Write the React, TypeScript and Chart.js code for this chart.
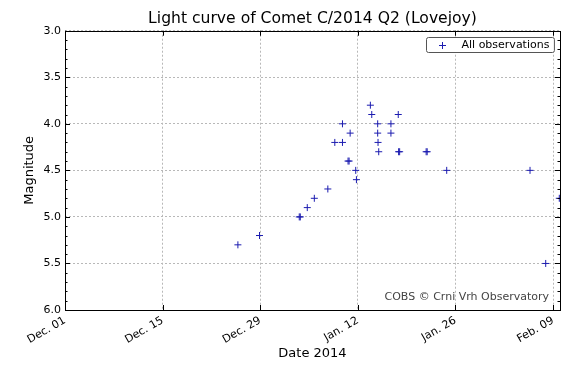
import React, { useEffect, useRef } from "react";
import { Chart, registerables } from "chart.js";

Chart.register(...registerables);

// Observation dates as days since 2013-12-01 (Dec. 01 = 0, Jan. 12 = 42, Feb. 09 = 70)
const obsDays = [
  24.8, 27.9, 33.6, 33.75, 34.75, 35.76, 37.7, 38.7, 39.8, 39.8, 40.6, 40.75, 40.9,
  41.7, 41.8, 43.8, 44.0, 44.85, 44.85, 44.9, 45.0, 46.75, 46.75, 47.8, 47.85,
  48.0, 51.8, 51.95, 54.75, 66.7, 68.95, 70.9,
];
// Visual magnitudes
const obsMags = [
  5.3, 5.2, 5.0, 5.0, 4.9, 4.8, 4.7, 4.2, 4.2, 4.0, 4.4, 4.4, 4.1,
  4.5, 4.6, 3.8, 3.9, 4.0, 4.1, 4.2, 4.3, 4.0, 4.1, 3.9, 4.3,
  4.3, 4.3, 4.3, 4.5, 4.5, 5.5, 4.8,
];

const tickDays = [0, 14, 28, 42, 56, 70];
const tickLabels = ["Dec. 01", "Dec. 15", "Dec. 29", "Jan. 12", "Jan. 26", "Feb. 09"];
const xMin = 0;
const xMax = 71;
const yMin = 3;
const yMax = 6;

const chartTitle = "Light curve of Comet C/2014 Q2 (Lovejoy)";
const xTitle = "Date 2014";
const yTitle = "Magnitude";
const legendLabel = "All observations";
const creditText = "COBS \u00a9 Crni Vrh Observatory";

const FONT = '"DejaVu Sans", sans-serif';
const MARK = "#1c1cb0";

const framePlugin = {
  id: "frame",
  afterDraw(chart: any) {
    const { ctx, chartArea: a, scales } = chart;
    const xs = scales.x;
    const ys = scales.y;
    ctx.save();
    ctx.strokeStyle = "#000";
    ctx.lineWidth = 1;
    ctx.setLineDash([]);
    ctx.beginPath();
    for (const d of tickDays) {
      const px = Math.round(xs.getPixelForValue(d)) + 0.5;
      ctx.moveTo(px, a.bottom);
      ctx.lineTo(px, a.bottom - 5);
      ctx.moveTo(px, a.top);
      ctx.lineTo(px, a.top + 5);
    }
    for (let i = 0; i <= 30; i++) {
      const v = yMin + i * 0.1;
      const len = i % 5 === 0 ? 5 : 2.5;
      const py = Math.round(ys.getPixelForValue(v)) + 0.5;
      ctx.moveTo(a.left, py);
      ctx.lineTo(a.left + len, py);
      ctx.moveTo(a.right, py);
      ctx.lineTo(a.right - len, py);
    }
    ctx.stroke();
    ctx.strokeRect(
      Math.round(a.left) + 0.5,
      Math.round(a.top) + 0.5,
      Math.round(a.right - a.left),
      Math.round(a.bottom - a.top)
    );

    // credit text
    ctx.font = "11px " + FONT;
    ctx.fillStyle = "#444";
    ctx.textAlign = "right";
    ctx.textBaseline = "middle";
    ctx.fillText(creditText, a.right - 11, a.bottom - 13);

    // legend
    ctx.font = "11px " + FONT;
    const tw = ctx.measureText(legendLabel).width;
    const right = a.right - 6;
    const top = Math.round(a.top) + 6.5;
    const h = 15;
    const w = tw + 40;
    const left = Math.round(right - w) + 0.5;
    ctx.beginPath();
    const r = 2;
    ctx.moveTo(left + r, top);
    ctx.lineTo(left + w - r, top);
    ctx.quadraticCurveTo(left + w, top, left + w, top + r);
    ctx.lineTo(left + w, top + h - r);
    ctx.quadraticCurveTo(left + w, top + h, left + w - r, top + h);
    ctx.lineTo(left + r, top + h);
    ctx.quadraticCurveTo(left, top + h, left, top + h - r);
    ctx.lineTo(left, top + r);
    ctx.quadraticCurveTo(left, top, left + r, top);
    ctx.closePath();
    ctx.fillStyle = "#fff";
    ctx.fill();
    ctx.strokeStyle = "#555";
    ctx.stroke();
    const mx = Math.round(left + 15) + 0.5;
    const my = Math.round(top + h / 2) + 0.5;
    ctx.strokeStyle = MARK;
    ctx.beginPath();
    ctx.moveTo(mx - 3.5, my);
    ctx.lineTo(mx + 3.5, my);
    ctx.moveTo(mx, my - 3.5);
    ctx.lineTo(mx, my + 3.5);
    ctx.stroke();
    ctx.fillStyle = "#000";
    ctx.textAlign = "left";
    ctx.fillText(legendLabel, left + 35, top + h / 2 + 0.5);
    ctx.restore();
  },
};

export default function App() {
  const ref = useRef<HTMLCanvasElement | null>(null);

  useEffect(() => {
    if (!ref.current) return;
    const points = obsDays.map((d, i) => ({ x: d, y: obsMags[i] }));
    const chart = new Chart(ref.current, {
      type: "scatter",
      data: {
        datasets: [
          {
            label: legendLabel,
            data: points,
            pointStyle: "cross",
            pointRadius: 3.5,
            pointHoverRadius: 3.5,
            borderColor: MARK,
            backgroundColor: MARK,
            borderWidth: 1,
          },
        ],
      },
      options: {
        animation: false,
        responsive: false,
        devicePixelRatio: 1,
        events: [],
        layout: { padding: { left: 0, right: 24, top: 0, bottom: 0 } },
        plugins: {
          legend: { display: false },
          tooltip: { enabled: false },
          title: {
            display: true,
            text: chartTitle,
            fullSize: false,
            color: "#000",
            font: { family: FONT, size: 15.6, weight: "normal", lineHeight: 1.2 },
            padding: { top: 10, bottom: 2 },
          },
        },
        scales: {
          x: {
            type: "linear",
            min: xMin,
            max: xMax,
            afterBuildTicks(scale: any) {
              scale.ticks = tickDays.map((v) => ({ value: v }));
            },
            afterFit(scale: any) {
              scale.height = 68;
              scale.paddingLeft = 0;
              scale.paddingRight = 0;
            },
            ticks: {
              autoSkip: false,
              maxRotation: 30,
              minRotation: 30,
              padding: 4,
              color: "#000",
              font: { family: FONT, size: 11 },
              callback: (v: any) => {
                const i = tickDays.indexOf(Number(v));
                return i >= 0 ? tickLabels[i] : "";
              },
            },
            grid: { color: "#b8b8b8", lineWidth: 1, drawTicks: false },
            border: { display: false, dash: [2, 2] },
            title: {
              display: true,
              text: xTitle,
              color: "#000",
              font: { family: FONT, size: 13 },
              padding: { top: 0, bottom: 17 },
            },
          },
          y: {
            type: "linear",
            reverse: true,
            min: yMin,
            max: yMax,
            afterFit(scale: any) {
              scale.width = 65;
              scale.paddingTop = 0;
              scale.paddingBottom = 0;
            },
            ticks: {
              stepSize: 0.5,
              padding: 4,
              color: "#000",
              font: { family: FONT, size: 11 },
              callback: (v: any) => Number(v).toFixed(1),
            },
            grid: { color: "#b8b8b8", lineWidth: 1, drawTicks: false },
            border: { display: false, dash: [2, 2] },
            title: {
              display: true,
              text: yTitle,
              color: "#000",
              font: { family: FONT, size: 13 },
              padding: { top: 22, bottom: 0 },
            },
          },
        },
      },
      plugins: [framePlugin],
    } as any);
    return () => chart.destroy();
  }, []);

  return (
    <div style={{ position: "absolute", left: 0, top: 0, width: 584, height: 378, background: "#fff" }}>
      <canvas ref={ref} width={584} height={378} style={{ display: "block" }} />
    </div>
  );
}
